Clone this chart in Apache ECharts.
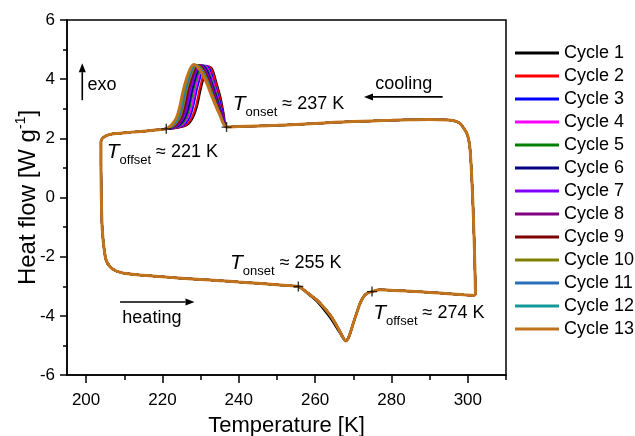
<!DOCTYPE html>
<html><head><meta charset="utf-8">
<script src="https://cdn.jsdelivr.net/npm/echarts@6/dist/echarts.min.js"></script>
<style>html,body{margin:0;padding:0;background:#fff}#c{width:635px;height:436px}</style>
</head><body><div id="c"></div>
<script>
const FONT = '"Liberation Sans", Arial, sans-serif';

const cycleNames = ['Cycle 1','Cycle 2','Cycle 3','Cycle 4','Cycle 5','Cycle 6','Cycle 7','Cycle 8','Cycle 9','Cycle 10','Cycle 11','Cycle 12','Cycle 13'];
const cycleColors = ['#000000','#ff0000','#0000ff','#ff00ff','#008000','#000080','#8000ff','#800080','#800000','#808000','#2a6ebb','#129a9a','#c0731b'];

const xTicks = [200, 220, 240, 260, 280, 300];
const xMinorTicks = [210, 230, 250, 270, 290, 310];

// [T (K), heat flow (W/g)] — shared parts of the loop
const rightTurn = [[302.0,-3.28],[301.85,-2.35],[301.6,-1.2],[301.3,-0.1],[300.9,1.0],[300.6,1.6],[300.3,1.9],[299.8,2.15],[299.0,2.33],[298.0,2.5],[296.8,2.58],[295.0,2.62]];
const coolingUpper = [[290,2.64],[285,2.63],[280,2.61],[275,2.59],[270,2.57],[265,2.54],[260,2.5],[255,2.47],[250,2.44],[245,2.42],[240,2.4]];
const coolingLower = [[218,2.28],[215,2.24],[212,2.21],[209,2.17],[206.5,2.14],[205.2,2.08],[204.3,2.0],[203.9,1.9],[203.9,1.2],[204.0,0.0],[204.2,-1.0],[204.6,-1.6],[205.2,-2.1],[206.2,-2.33],[207.5,-2.46],[209,-2.53],[210.5,-2.57],[214,-2.62],[218,-2.66]];
const heatingLower = [[222,-2.7],[226,-2.74],[230,-2.77],[235,-2.81],[240,-2.86],[245,-2.9],[250,-2.95],[255.6,-3.01]];
const endoMain = [[257,-3.12],[258.5,-3.27],[260.4,-3.46],[262.2,-3.7],[263.9,-3.97],[265.3,-4.25],[266.5,-4.53],[267.4,-4.75],[268.0,-4.85],[268.7,-4.75],[269.4,-4.5],[270.0,-4.25],[270.9,-3.9],[271.8,-3.57],[272.7,-3.35],[273.6,-3.24],[274.9,-3.18]];
const endoFirst = [[257,-3.14],[258.5,-3.3],[260.4,-3.51],[262.2,-3.78],[263.9,-4.06],[265.3,-4.34],[266.5,-4.59],[267.4,-4.78],[268.0,-4.84],[268.7,-4.74],[269.4,-4.49],[270.0,-4.24],[270.9,-3.89],[271.8,-3.57],[272.7,-3.35],[273.6,-3.24],[274.9,-3.18]];
const heatingUpper = [[277,-3.12],[280.5,-3.14],[285,-3.17],[290,-3.21],[295,-3.25],[299,-3.29],[301.5,-3.31],[302.0,-3.28]];

// Exothermic peak on cooling: heat-flow levels and, per cycle, the temperature at each level
const exoLevels = [2.38, 2.8, 3.4, 3.9, 4.3, null, 4.3, 3.7, 3.1, 2.7, 2.45, 2.36, 2.32];
const exoPeakHF = [4.42, 4.44, 4.45, 4.46, 4.46, 4.47, 4.47, 4.48, 4.48, 4.49, 4.49, 4.5, 4.5];
const exoT = [
  [236.8, 236.1, 235.2, 234.1, 233.2, 232.3, 231.4, 230.1, 229.1, 228.0, 226.5, 224.0, 221.0],
  [236.8, 236.0, 235.0, 233.9, 233.0, 232.0, 231.1, 229.8, 228.8, 227.7, 226.2, 223.8, 221.0],
  [236.8, 235.9, 234.7, 233.5, 232.5, 231.4, 230.5, 229.1, 228.1, 227.1, 225.6, 223.5, 221.0],
  [236.8, 235.7, 234.5, 233.3, 232.1, 231.0, 230.0, 228.7, 227.7, 226.6, 225.2, 223.2, 221.0],
  [236.8, 235.6, 234.3, 233.0, 231.8, 230.6, 229.6, 228.2, 227.2, 226.2, 224.8, 222.9, 221.0],
  [236.8, 235.6, 234.1, 232.8, 231.6, 230.3, 229.3, 227.9, 226.9, 225.9, 224.5, 222.8, 221.0],
  [236.8, 235.5, 233.9, 232.6, 231.3, 229.9, 228.9, 227.5, 226.5, 225.5, 224.1, 222.6, 221.0],
  [236.8, 235.4, 233.7, 232.4, 231.0, 229.6, 228.6, 227.1, 226.1, 225.2, 223.8, 222.4, 221.0],
  [236.8, 235.3, 233.6, 232.2, 230.8, 229.3, 228.3, 226.8, 225.8, 224.9, 223.5, 222.2, 221.0],
  [236.8, 235.2, 233.4, 232.0, 230.6, 229.0, 228.0, 226.5, 225.5, 224.6, 223.2, 222.0, 221.0],
  [236.8, 235.1, 233.3, 231.8, 230.3, 228.7, 227.7, 226.2, 225.2, 224.3, 222.9, 221.8, 221.0],
  [236.8, 235.1, 233.2, 231.7, 230.1, 228.5, 227.4, 225.9, 224.9, 224.0, 222.7, 221.7, 221.0],
  [236.8, 235.0, 233.0, 231.5, 229.9, 228.2, 227.1, 225.6, 224.6, 223.7, 222.4, 221.5, 221.0]
];

// onset / offset markers
const markerPts = [[221.0,2.32],[236.8,2.38],[255.6,-3.01],[274.9,-3.18]];

function buildLoop(k) {
  const exo = exoT[k].map((t, i) => [t, exoLevels[i] === null ? exoPeakHF[k] : exoLevels[i]]);
  const endo = k === 0 ? endoFirst : endoMain;
  return [].concat(rightTurn, coolingUpper, exo, coolingLower, heatingLower, endo, heatingUpper);
}

const chart = echarts.init(document.getElementById('c'), null, {renderer: 'canvas'});

const series = cycleNames.map((n, k) => ({
  name: n, type: 'line', data: buildLoop(k), symbol: 'none', showSymbol: false,
  smooth: 0.3, animation: false, z: 2,
  lineStyle: {width: k === 12 ? 3 : 2, color: cycleColors[k]},
  itemStyle: {color: cycleColors[k]}
}));
series.push({
  type: 'scatter', data: markerPts, symbol: 'path://M4.3,0H5.7V4.3H10V5.7H5.7V10H4.3V5.7H0V4.3H4.3Z',
  symbolSize: 10, itemStyle: {color: '#000'}, z: 5, animation: false, silent: true
});

const axisCol = '#000';
const option = {
  backgroundColor: '#fff',
  animation: false,
  textStyle: {fontFamily: FONT},
  grid: {left: 67, right: 129, top: 20, bottom: 61, show: true, borderColor: axisCol, borderWidth: 1.5,
    containLabel: false, outerBoundsMode: 'none'},
  legend: {
    data: cycleNames, orient: 'vertical', left: 515, top: 44, padding: 0, itemWidth: 44, itemHeight: 3, itemGap: 5,
    icon: 'rect', selectedMode: false,
    textStyle: {fontSize: 18, lineHeight: 18, color: '#000', fontFamily: FONT}
  },
  xAxis: [{
    type: 'value', min: 195, max: 310, position: 'bottom',
    axisLine: {show: true, onZero: false, lineStyle: {color: axisCol, width: 1.5}},
    axisTick: {show: true, customValues: xTicks, length: 8, lineStyle: {color: axisCol, width: 1.5}},
    axisLabel: {customValues: xTicks, margin: 17, fontSize: 17, color: '#000', fontFamily: FONT},
    splitLine: {show: false},
    name: 'Temperature [K]', nameLocation: 'middle', nameGap: 40, nameMoveOverlap: false,
    nameTextStyle: {fontSize: 22, color: '#000', fontFamily: FONT}
  }, {
    type: 'value', min: 195, max: 310, position: 'bottom',
    axisLine: {show: false, onZero: false},
    axisTick: {show: true, customValues: xMinorTicks, length: 5, lineStyle: {color: axisCol, width: 1.5}},
    axisLabel: {show: false}, splitLine: {show: false}
  }],
  yAxis: {
    type: 'value', min: -6, max: 6, interval: 2,
    axisLine: {show: true, onZero: false, lineStyle: {color: axisCol, width: 1.5}},
    axisTick: {show: true, length: 7, lineStyle: {color: axisCol, width: 1.5}},
    minorTick: {show: true, splitNumber: 2, length: 4, lineStyle: {color: axisCol, width: 1.5}},
    axisLabel: {margin: 12, fontSize: 17, color: '#000', fontFamily: FONT},
    splitLine: {show: false},
    name: 'Heat flow [W g{sup|-1}]', nameLocation: 'middle', nameGap: 25, nameRotate: 90, nameMoveOverlap: false,
    nameTextStyle: {fontSize: 24, color: '#000', fontFamily: FONT, lineHeight: 28,
      rich: {sup: {fontSize: 14, lineHeight: 14, verticalAlign: 'top', color: '#000', fontFamily: FONT}}}
  },
  series: series
};
chart.setOption(option);

// annotations placed in data coordinates
const px = (t, h) => chart.convertToPixel({seriesIndex: 0}, [t, h]);
const richT = {
  i: {fontSize: 21, fontStyle: 'italic', lineHeight: 30, color: '#000', fontFamily: FONT},
  s: {fontSize: 13, lineHeight: 14, verticalAlign: 'bottom', color: '#000', fontFamily: FONT},
  n: {fontSize: 18, lineHeight: 30, color: '#000', fontFamily: FONT}
};
const labels = [
  {at: [238.4, 3.16], sub: 'onset', rest: ' \u2248 237 K'},
  {at: [205.4, 1.54], sub: 'offset', rest: ' \u2248 221 K'},
  {at: [237.7, -2.21], sub: 'onset', rest: ' \u2248 255 K'},
  {at: [275.2, -3.9], sub: 'offset', rest: ' \u2248 274 K'}
];
const graphics = [];
labels.forEach(l => {
  const p = px(l.at[0], l.at[1]);
  graphics.push({type: 'text', x: p[0], y: p[1], z: 10, style: {
    text: '{i|T}{s|' + l.sub + '}{n|' + l.rest + '}', rich: richT, align: 'left', verticalAlign: 'middle'}});
});
const plain = [
  {at: [200.34, 3.80], text: 'exo'},
  {at: [275.75, 3.84], text: 'cooling'},
  {at: [209.5, -4.07], text: 'heating'}
];
plain.forEach(l => {
  const p = px(l.at[0], l.at[1]);
  graphics.push({type: 'text', x: p[0], y: p[1], z: 10, style: {text: l.text, fontSize: 18, fontFamily: FONT, fill: '#000', align: 'left', verticalAlign: 'middle'}});
});
function arrow(from, to) {
  const a = px(from[0], from[1]), b = px(to[0], to[1]);
  const dx = b[0] - a[0], dy = b[1] - a[1], len = Math.hypot(dx, dy);
  const ux = dx / len, uy = dy / len, hl = 9, hw = 3.5;
  const base = [b[0] - ux * hl, b[1] - uy * hl];
  graphics.push({type: 'line', z: 10, shape: {x1: a[0], y1: a[1], x2: base[0], y2: base[1]}, style: {stroke: '#000', lineWidth: 1.6}});
  graphics.push({type: 'polygon', z: 10, shape: {points: [b, [base[0] - uy * hw, base[1] + ux * hw], [base[0] + uy * hw, base[1] - ux * hw]]}, style: {fill: '#000'}});
}
arrow([199.0, 3.29], [199.0, 4.54]);
arrow([293.4, 3.40], [272.8, 3.40]);
arrow([208.9, -3.53], [228.4, -3.53]);
chart.setOption({graphic: graphics});
</script></body></html>
